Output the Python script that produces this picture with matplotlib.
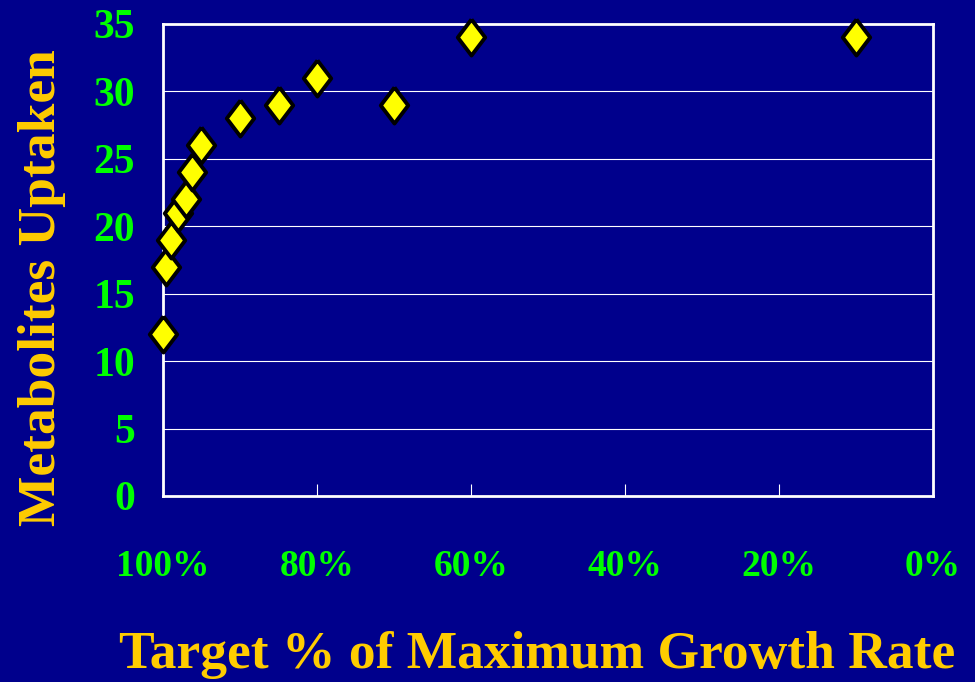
import matplotlib
matplotlib.use("Agg")
import matplotlib.pyplot as plt
from matplotlib.ticker import FuncFormatter

# Data
target_pct = [100, 99.6, 99.0, 98.1, 97.0, 96.2, 95.1, 90, 85, 80, 70, 60, 10]
metabolites = [12, 17, 19, 21, 22, 24, 26, 28, 29, 31, 29, 34, 34]

x_ticks = [100, 80, 60, 40, 20, 0]
y_ticks = [0, 5, 10, 15, 20, 25, 30, 35]

bg = "#00008C"
green = "#00FF00"
gold = "#FFCC00"
font = "Liberation Serif"

fig = plt.figure(figsize=(9.75, 6.82), dpi=100, facecolor=bg)
ax = fig.add_axes([163 / 975, 1 - 496 / 682, 770 / 975, 472 / 682], facecolor=bg)

# tall diamond marker
diamond = [(0, 1), (0.76, 0), (0, -1), (-0.76, 0), (0, 1)]
ax.plot(target_pct, metabolites, linestyle="none", marker=diamond,
        markersize=26, markerfacecolor="#FFFF00", markeredgecolor="black",
        markeredgewidth=2.8, clip_on=False, zorder=5)

ax.set_xlim(100, 0)
ax.set_ylim(0, 35)
ax.set_xticks(x_ticks)
ax.set_yticks(y_ticks)
ax.xaxis.set_major_formatter(FuncFormatter(lambda v, p: f"{int(v)}%"))

for y in y_ticks[1:-1]:
    ax.axhline(y, color="white", linewidth=0.8, zorder=1)

for s in ax.spines.values():
    s.set_color("white")
    s.set_linewidth(2)

ax.tick_params(axis="x", direction="in", length=9, width=0.8, color="white",
               pad=38, labelcolor=green)
ax.tick_params(axis="y", length=0, pad=20, labelcolor=green)
for lab in ax.get_xticklabels():
    lab.set_fontfamily(font)
    lab.set_fontweight("bold")
    lab.set_fontsize(27)
for lab in ax.get_yticklabels():
    lab.set_fontfamily(font)
    lab.set_fontweight("bold")
    lab.set_fontsize(30)

fig.text(537 / 975, 1 - 655 / 682, "Target % of Maximum Growth Rate", color=gold,
         fontfamily=font, fontweight="bold", fontsize=38.5, ha="center", va="center")
fig.text(42 / 975, 1 - 288 / 682, "Metabolites Uptaken", color=gold,
         fontfamily=font, fontweight="bold", fontsize=38.5, rotation=90,
         ha="center", va="center")

fig.savefig("out.png", dpi=100, facecolor=bg)
